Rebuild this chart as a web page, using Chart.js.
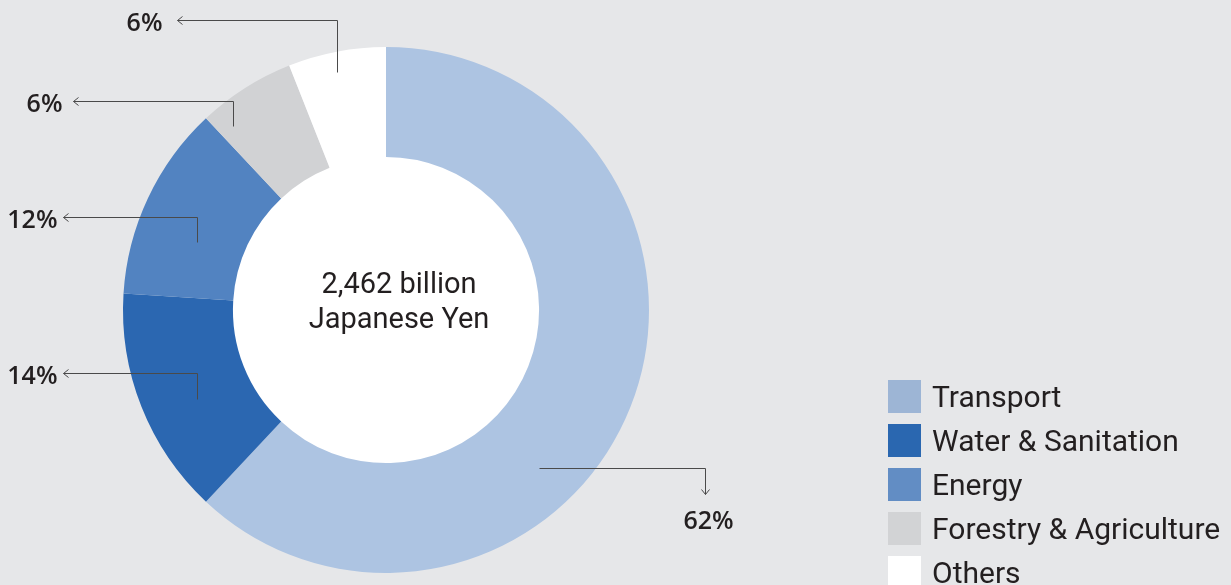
<!DOCTYPE html>
<html>
<head>
<meta charset="utf-8">
<script src="https://cdn.jsdelivr.net/npm/chart.js@4"></script>
<style>
  html, body { margin: 0; padding: 0; background: #e6e7e9; }
  #wrap { width: 1231px; height: 585px; position: relative; }
</style>
</head>
<body>
<div id="wrap"><canvas id="FundChart"></canvas></div>
<script>
var sectors = ['Transport', 'Water & Sanitation', 'Energy', 'Forestry & Agriculture', 'Others'];
var shares = [62, 14, 12, 6, 6];
var sliceColors = ['#adc4e2', '#2b67b1', '#5283c1', '#d1d2d4', '#ffffff'];
var legendColors = ['#9db5d5', '#2a67b0', '#628dc4', '#d2d3d5', '#ffffff'];
var centerLines = ['2,462 billion', 'Japanese Yen'];

// leader lines: start point as angle (deg, clockwise from top) and fraction of outer radius
var callouts = [
    { angle: 135.9, r: 0.837, dir: 'right', run: 166, rise: 26, gap: 0 },
    { angle: 244.8, r: 0.795, dir: 'left', run: 134, rise: 26, gap: 6 },
    { angle: 289.8, r: 0.764, dir: 'left', run: 134, rise: 25, gap: 6 },
    { angle: 320.3, r: 0.909, dir: 'left', run: 160, rise: 25, gap: 11 },
    { angle: 348.4, r: 0.924, dir: 'left', run: 160, rise: 52, gap: 15 }
];

var extras = {
    id: 'extras',
    beforeDatasetsDraw: function (chart) {
        // white hole in the middle of the ring
        var arc = chart.getDatasetMeta(0).data[0];
        var c = chart.ctx;
        c.save();
        c.fillStyle = '#ffffff';
        c.beginPath();
        c.arc(arc.x, arc.y, arc.innerRadius + 1, 0, Math.PI * 2);
        c.fill();
        c.restore();
    },
    afterDraw: function (chart) {
        var c = chart.ctx;
        var arc = chart.getDatasetMeta(0).data[0];
        var cx = arc.x, cy = arc.y, R = arc.outerRadius;
        c.save();

        // centre text
        c.fillStyle = '#231f20';
        c.font = '29px Roboto';
        c.textAlign = 'center';
        c.textBaseline = 'alphabetic';
        c.fillText(centerLines[0], cx + 13, cy - 17);
        c.fillText(centerLines[1], cx + 13, cy + 18);

        // callouts
        c.strokeStyle = '#4a4a4a';
        c.lineWidth = 1;
        c.font = '600 25px "Open Sans"';
        callouts.forEach(function (o, i) {
            var a = (o.angle - 90) * Math.PI / 180;
            var x0 = Math.round(cx + o.r * R * Math.cos(a)) + 0.5;
            var y0 = Math.round(cy + o.r * R * Math.sin(a)) + 0.5;
            var txt = shares[i] + '%';
            c.beginPath();
            if (o.dir === 'left') {
                var y1 = y0 - o.rise, x1 = x0 - o.run;
                c.moveTo(x0, y0); c.lineTo(x0, y1); c.lineTo(x1, y1);
                c.moveTo(x1 + 5, y1 - 4); c.lineTo(x1, y1); c.lineTo(x1 + 5, y1 + 4);
                c.stroke();
                c.textAlign = 'right';
                c.textBaseline = 'middle';
                c.fillText(txt, x1 - o.gap, y1 + 3);
            } else {
                var x2 = x0 + o.run, y2 = y0 + o.rise;
                c.moveTo(x0, y0); c.lineTo(x2, y0); c.lineTo(x2, y2);
                c.moveTo(x2 - 4, y2 - 5); c.lineTo(x2, y2); c.lineTo(x2 + 4, y2 - 5);
                c.stroke();
                c.textAlign = 'center';
                c.textBaseline = 'middle';
                c.fillText(txt, x2 + 3, y2 + 27);
            }
        });

        // legend
        c.font = '30px Roboto';
        c.textAlign = 'left';
        c.textBaseline = 'middle';
        sectors.forEach(function (s, i) {
            var top = 380 + i * 44;
            c.fillStyle = legendColors[i];
            c.fillRect(888, top, 33, 33);
            c.fillStyle = '#231f20';
            c.fillText(s, 932, top + 19);
        });
        c.restore();
    }
};

var ctx = document.getElementById('FundChart').getContext('2d');
var fundChart = new Chart(ctx, {
    type: 'doughnut',
    data: {
        labels: sectors,
        datasets: [{
            label: 'Share',
            data: shares,
            backgroundColor: sliceColors,
            borderWidth: 0
        }]
    },
    options: {
        responsive: true,
        maintainAspectRatio: false,
        animation: false,
        cutout: '58.2%',
        layout: { padding: { left: 123, right: 582, top: 47, bottom: 12 } },
        plugins: {
            legend: { display: false },
            tooltip: { enabled: false }
        }
    },
    plugins: [extras]
});
</script>
</body>
</html>
